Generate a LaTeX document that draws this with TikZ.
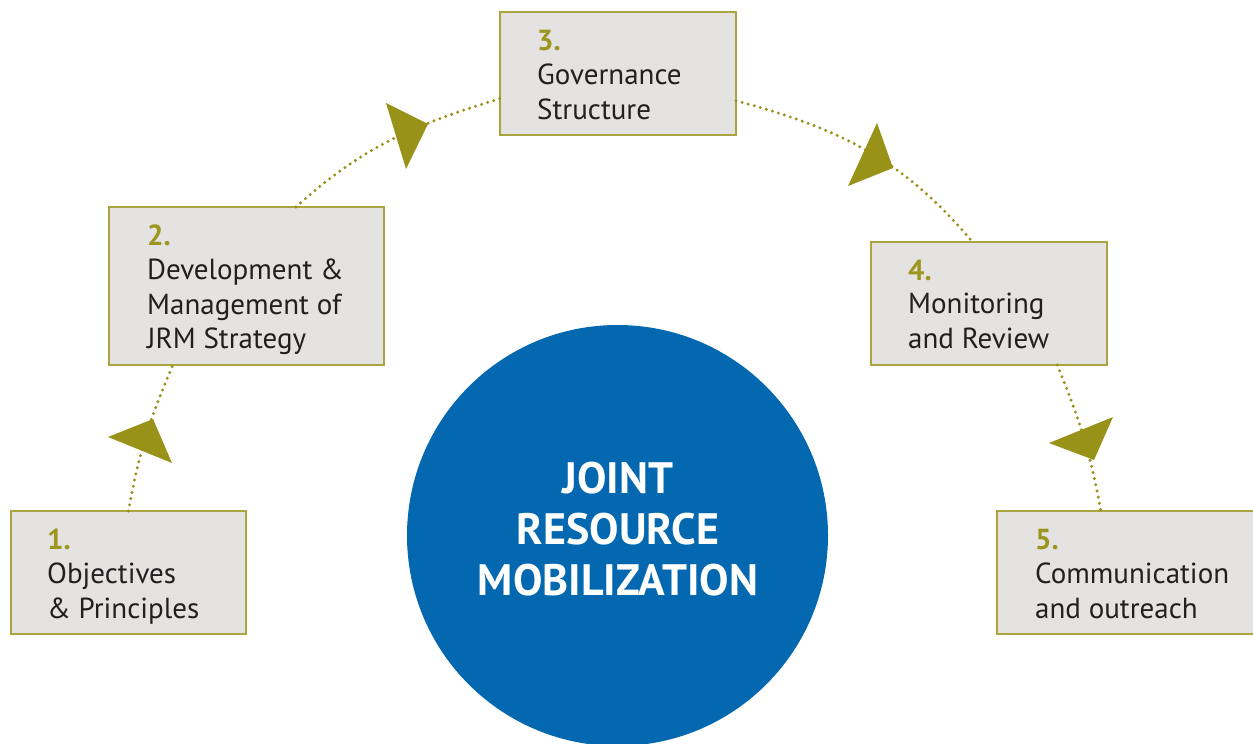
\documentclass[tikz,border=0pt]{standalone}
\usepackage{fontspec}
\setmainfont{PT Sans}
\definecolor{boxline}{HTML}{ACA43E}
\definecolor{boxfill}{HTML}{E4E3E1}
\definecolor{arrowcol}{HTML}{989218}
\definecolor{numcol}{HTML}{9C961E}
\definecolor{jrmblue}{HTML}{0468B1}
\definecolor{txtcol}{HTML}{231F20}
\tikzset{
  stepbox/.style={draw=boxline, line width=1.5pt, fill=boxfill, inner sep=0pt, outer sep=0pt, anchor=north west},
  numlbl/.style={anchor=base west, inner sep=0pt, text=numcol, font=\fontsize{29}{34.5}\selectfont\bfseries},
  boxtxt/.style={anchor=base west, inner sep=0pt, text=txtcol, align=left, font=\fontsize{29}{34.5}\selectfont},
  conn/.style={draw=arrowcol, line width=3.3pt, line cap=round, dash pattern=on 0pt off 6.3pt},
  headtri/.style={fill=arrowcol}
}
\begin{document}
\begin{tikzpicture}[x=1pt,y=1pt]
\useasboundingbox (0,0) rectangle (1253,-744);

% central circle
\node[circle, fill=jrmblue, minimum size=421pt, inner sep=0pt, outer sep=0pt] (c) at (617.5,-535.5) {};
\node[anchor=base, inner sep=0pt, text=white, align=center, font=\fontsize{44}{51}\selectfont\bfseries] (ct) at (618,-595) {JOINT\\RESOURCE\\MOBILIZATION};

% boxes
\node[stepbox, minimum width=235pt, minimum height=123pt] (b1) at (11,-511) {};
\node[stepbox, minimum width=275pt, minimum height=158pt] (b2) at (109,-207) {};
\node[stepbox, minimum width=236pt, minimum height=123pt] (b3) at (500,-12) {};
\node[stepbox, minimum width=236pt, minimum height=123pt] (b4) at (871,-242) {};
\node[stepbox, minimum width=265pt, minimum height=123pt] (b5) at (997,-511) {};

% labels (multi-line nodes: base = last line)
\node[numlbl] (n1) at (47,-549) {1.};
\node[boxtxt] (t1) at (47,-618) {Objectives\\\& Principles};
\node[numlbl] (n2) at (147,-245) {2.};
\node[boxtxt] (t2) at (147,-348.5) {Development \&\\Management of\\JRM Strategy};
\node[numlbl] (n3) at (537,-50) {3.};
\node[boxtxt] (t3) at (537,-119) {Governance\\Structure};
\node[numlbl] (n4) at (908,-280) {4.};
\node[boxtxt] (t4) at (908,-348) {Monitoring\\and Review};
\node[numlbl] (n5) at (1035,-549) {5.};
\node[boxtxt] (t5) at (1035,-618) {Communication\\and outreach};

% connectors
\draw[conn] (b1.north) to[out=80,in=247] (b2.227);
\draw[conn] (b2.58.5) to[out=42,in=197] (b3.192.7);
\draw[conn] (b3.347.3) to[out=-15,in=130] (b4.105.5);
\draw[conn] (b4.318.3) to[out=-68,in=100] (b5.115.6);

% arrowheads
\fill[headtri] (108,-437) -- (153,-419) -- (172,-463) -- cycle;
\fill[headtri] (386,-103) -- (428,-124) -- (406,-169) -- cycle;
\fill[headtri] (877,-123) -- (893,-168) -- (848,-186) -- cycle;
\fill[headtri] (1113,-417) -- (1094,-460) -- (1049,-443) -- cycle;
\end{tikzpicture}
\end{document}
